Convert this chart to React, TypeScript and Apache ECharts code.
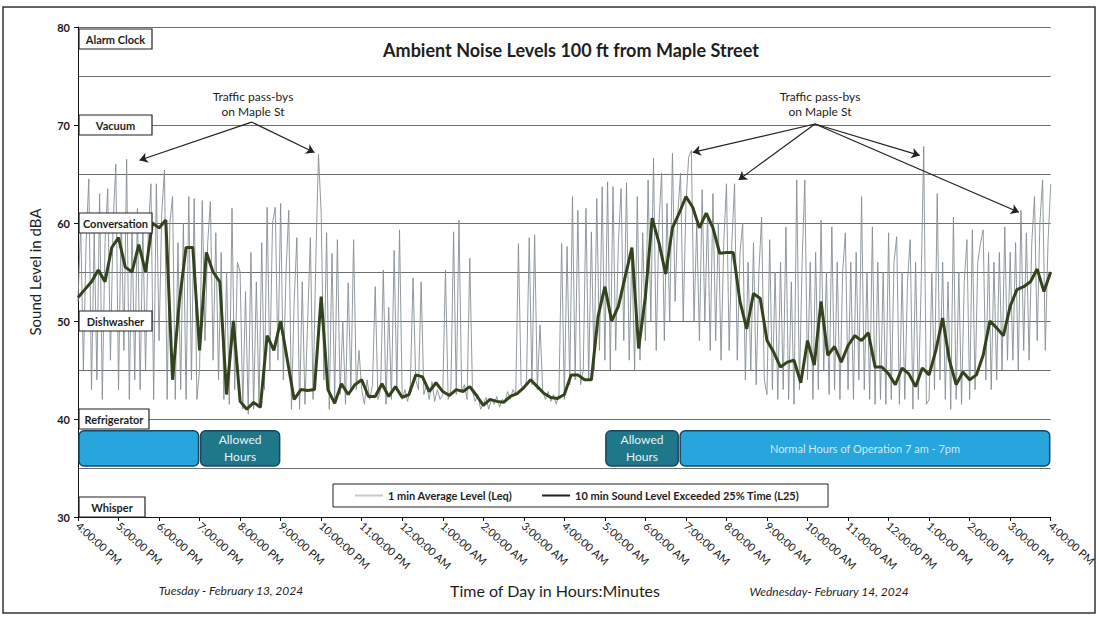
import React, { useEffect, useRef } from "react";
import * as echarts from "echarts";

const tickLabels = [
  "4:00:00 PM", "5:00:00 PM", "6:00:00 PM", "7:00:00 PM", "8:00:00 PM", "9:00:00 PM",
  "10:00:00 PM", "11:00:00 PM", "12:00:00 AM", "1:00:00 AM", "2:00:00 AM", "3:00:00 AM",
  "4:00:00 AM", "5:00:00 AM", "6:00:00 AM", "7:00:00 AM", "8:00:00 AM", "9:00:00 AM",
  "10:00:00 AM", "11:00:00 AM", "12:00:00 PM", "1:00:00 PM", "2:00:00 PM", "3:00:00 PM",
  "4:00:00 PM",
];

const leqStepMin = 4;
const leqValues = [
  52, 60, 45, 58, 64.5, 43, 59, 44, 63, 42, 58, 63.5, 46, 60, 66,
  43, 61, 47, 66.5, 42, 60, 44, 61.5, 43, 60, 45, 59, 64, 42, 64,
  48, 61, 65.4, 42, 60, 62.7, 42, 58, 43, 60, 42, 62.7, 44, 62.5, 42,
  45, 62.3, 48, 58, 62.2, 46, 59, 44, 57, 42, 55, 41.5, 61.5, 43, 56,
  55, 41, 53, 40.5, 57, 41, 54, 41.5, 58, 43, 61.6, 45, 60, 61.6, 46,
  62, 44, 55, 61.3, 41, 52, 58.5, 41, 54, 41.5, 50, 58.5, 42, 56, 67,
  61, 44, 59, 41, 56.9, 42, 58.3, 42.5, 50, 41.5, 53.9, 43, 58.3, 43, 47,
  43, 41.5, 44, 42, 43.5, 53.5, 42, 43, 55.2, 41.5, 51.4, 42, 57.2, 43, 59.3,
  42, 43, 41.8, 43.5, 54.4, 44, 43, 54, 42.5, 43.5, 42, 43.8, 41.8, 43, 42,
  42.5, 55.2, 42, 43, 59.1, 42.5, 60.3, 42.8, 43.5, 42, 56.4, 42.8, 41.8, 42.5, 41,
  41.5, 42.2, 41, 42, 41.5, 42.3, 41.2, 42, 41.8, 42.8, 42, 43, 42.5, 57.9, 43.5,
  43, 44, 58.5, 43.5, 58.8, 43, 49.6, 42.8, 42, 42.8, 41.8, 42.5, 41.5, 42.5, 57.9,
  42, 57.6, 43.5, 62.7, 44, 61.3, 43.5, 45, 61.5, 44, 59.1, 45, 62.5, 47, 63.7,
  46, 64.2, 45, 63.7, 47, 58, 63.5, 48, 64.1, 46, 57, 45, 62.7, 46, 59,
  48, 64.4, 50, 66.6, 47, 60, 65.1, 48, 62, 50, 67.1, 52, 61, 65.1, 50,
  62, 66.7, 67.4, 50, 60, 48, 63.4, 50, 61, 47, 63, 48, 60, 46, 58,
  64, 47, 58, 64, 46, 57, 60, 44, 56, 45, 58, 43.5, 55, 60.6, 44,
  42.5, 58.3, 43, 55, 42, 56, 43, 59.6, 42, 54, 41.5, 64.4, 43, 56, 64.4,
  44, 56, 42, 57, 43, 60.3, 45, 55, 42.5, 59.6, 43, 56, 42, 55, 59,
  43, 56, 42, 57, 44, 62.7, 43, 55, 42, 59.6, 41.5, 56, 42, 55, 41.5,
  59, 42, 56, 58.6, 41.5, 55, 42, 54, 58.3, 41, 56, 42, 53, 67.8, 41.5,
  42, 55, 43, 63, 44, 56, 42, 54, 41, 60.6, 42, 55, 41.5, 54, 58.3,
  42, 59.3, 43, 56, 57.9, 59.3, 44, 57, 43, 56, 44, 57, 45, 59.6, 46,
  57, 46, 58, 45, 61.3, 47, 59, 46, 58, 62.7, 48, 60, 64.4, 47, 58,
  64,
];

// 10-min L25, every 10 minutes from 4:00 PM
const l25StepMin = 10;
const l25Values = [
  52.4, 53.2, 54, 55.2, 54, 57.5, 58.5, 55.5, 55, 57.8,
  55, 60, 59.5, 60.3, 44, 52, 57.5, 57.5, 47, 57,
  55, 54, 42.5, 50, 41.8, 41, 41.7, 41.2, 48.5, 47,
  50, 46, 42, 43, 42.9, 43, 52.5, 43, 41.6, 43.6,
  42.5, 43.5, 44, 42.3, 42.3, 43.6, 42.3, 43.3, 42.2, 42.5,
  44.5, 44.3, 42.8, 43.7, 42.8, 42.4, 43, 42.8, 43.3, 42.4,
  41.4, 42, 41.8, 41.7, 42.3, 42.6, 43.2, 44, 43.3, 42.6,
  42.2, 42.1, 42.5, 44.5, 44.5, 44, 44, 50.5, 53.5, 50,
  51.5, 54.5, 57.5, 47.2, 52.5, 60.5, 58, 54.8, 59.5, 61,
  62.7, 61.6, 59.5, 61, 59.5, 56.9, 57, 57, 52, 49.2,
  52.8, 52.3, 48, 46.8, 45.3, 45.8, 46, 43.7, 48, 45.5,
  52, 46.5, 47.4, 45.8, 47.5, 48.5, 48, 48.8, 45.3, 45.3,
  44.6, 43.5, 45.2, 44.6, 43.3, 45.2, 44.5, 47, 50.3, 46,
  43.5, 44.8, 44, 44.5, 46.5, 50, 49.3, 48.5, 51.5, 53.2,
  53.5, 54, 55.3, 53, 55,
];

// reference sound levels shown on the y axis
const refNames = ["Alarm Clock", "Vacuum", "Conversation", "Dishwasher", "Refrigerator", "Whisper"];
const refLevels = [80, 70, 60, 50, 40, 30];

// operation schedule bands (minutes from 4:00 PM)
const scheduleStart = [0, 180, 780, 890];
const scheduleEnd = [180, 300, 890, 1440];
const scheduleLabels = ["", "Allowed\nHours", "Allowed\nHours", "Normal Hours of Operation 7 am - 7pm"];
const scheduleKinds = ["normal", "allowed", "allowed", "normal"];
const scheduleBand = [35.2, 38.8];

// annotation arrows: [minute, dB] origin and target
const arrowsFrom = [[257, 70.3], [257, 70.3], [1091, 70.1], [1091, 70.1], [1091, 70.1], [1091, 70.1]];
const arrowsTo = [[91, 66.4], [350, 67.2], [910, 67.2], [978, 64.4], [1246, 66.9], [1393, 61.1]];

const LEQ = "1 min Average Level (Leq)";
const L25 = "10 min Sound Level Exceeded 25% Time (L25)";
const FONT = "Lato, 'Open Sans', sans-serif";

export default function App() {
  const ref = useRef<HTMLDivElement>(null);

  useEffect(() => {
    if (!ref.current) return;
    const chart = echarts.init(ref.current, null, { renderer: "svg" });

    const gridLine = { color: "#6e6e6e", width: 1 };
    const annText = {
      text: "Traffic pass-bys\non Maple St",
      align: "center",
      verticalAlign: "middle",
      fontSize: 12,
      lineHeight: 15,
      fontFamily: FONT,
      fill: "#1e1e1e",
    };

    const option: any = {
      animation: false,
      backgroundColor: "#ffffff",
      textStyle: { fontFamily: FONT },
      title: {
        text: "Ambient Noise Levels 100 ft from Maple Street",
        left: 566,
        textAlign: "center",
        top: 36,
        textStyle: { fontFamily: FONT, fontSize: 18, fontWeight: "bold", color: "#1e1e1e" },
      },
      legend: {
        left: 333,
        top: 484,
        data: [
          { name: LEQ, icon: "rect", itemStyle: { color: "#c3cbce" } },
          { name: L25, icon: "rect", itemStyle: { color: "#1e1e1e" } },
        ],
        itemWidth: 28,
        itemHeight: 2,
        itemGap: 30,
        padding: [6, 29, 6, 22],
        borderColor: "#222",
        borderWidth: 1,
        backgroundColor: "#fff",
        textStyle: { fontFamily: FONT, fontSize: 11, fontWeight: "bold", color: "#1e1e1e" },
      },
      grid: { left: 78, right: 42, top: 27, bottom: 102, containLabel: false },
      xAxis: {
        type: "value",
        min: 0,
        max: 1440,
        interval: 60,
        axisLine: { show: true, lineStyle: { color: "#111", width: 1 } },
        axisTick: { show: true, length: 4, lineStyle: { color: "#111" } },
        axisLabel: {
          rotate: -42,
          fontSize: 11,
          margin: 7,
          color: "#1a1a1a",
          fontFamily: FONT,
          formatter: (v: number) => tickLabels[Math.round(v / 60)] ?? "",
        },
        splitLine: { show: false },
      },
      yAxis: {
        type: "value",
        min: 30,
        max: 80,
        interval: 10,
        name: "Sound Level in dBA",
        nameLocation: "middle",
        nameGap: 36,
        nameTextStyle: { fontFamily: FONT, fontSize: 15, color: "#1e1e1e" },
        axisLine: { show: true, lineStyle: { color: "#111", width: 1 } },
        axisTick: { show: true, length: 4, lineStyle: { color: "#111" } },
        axisLabel: { fontSize: 11, fontWeight: "bold", color: "#1a1a1a", margin: 8, fontFamily: FONT },
        splitLine: { show: true, lineStyle: gridLine },
        minorTick: { show: false, splitNumber: 2 },
        minorSplitLine: { show: true, lineStyle: gridLine },
      },
      series: [
        {
          name: LEQ,
          type: "line",
          symbol: "none",
          z: 2,
          data: leqValues.map((v, i) => [i * leqStepMin, v]),
          lineStyle: { color: "#858f94", width: 0.9 },
          itemStyle: { color: "#c3cbce" },
        },
        {
          name: L25,
          type: "line",
          symbol: "none",
          z: 3,
          data: l25Values.map((v, i) => [i * l25StepMin, v]),
          lineStyle: { color: "#33431e", width: 3 },
          itemStyle: { color: "#1e1e1e" },
          markLine: {
            silent: true,
            symbol: ["none", "arrow"],
            symbolSize: 8,
            label: { show: false },
            lineStyle: { color: "#222", width: 1.2, type: "solid" },
            data: arrowsFrom.map((f, i) => [{ coord: f }, { coord: arrowsTo[i] }]),
          },
        },
        {
          name: "schedule",
          type: "custom",
          z: 5,
          silent: true,
          data: scheduleStart.map((s, i) => [s, scheduleEnd[i]]),
          renderItem: (params: any, api: any) => {
            const i = params.dataIndex;
            const p1 = api.coord([scheduleStart[i], scheduleBand[1]]);
            const p2 = api.coord([scheduleEnd[i], scheduleBand[0]]);
            const allowed = scheduleKinds[i] === "allowed";
            return {
              type: "rect",
              shape: { x: p1[0] + 1, y: p1[1], width: p2[0] - p1[0] - 2, height: p2[1] - p1[1], r: 5 },
              style: { fill: allowed ? "#1f7889" : "#27a5dd", stroke: "#1c4659", lineWidth: 1.5 },
              textContent: {
                style: {
                  text: scheduleLabels[i],
                  fill: allowed ? "#e4f3f6" : "#cde9f6",
                  fontSize: allowed ? 12 : 11,
                  fontFamily: FONT,
                  align: "center",
                  lineHeight: 17,
                },
              },
              textConfig: { position: "inside" },
            };
          },
        },
        {
          name: "levels",
          type: "custom",
          z: 6,
          silent: true,
          data: refLevels.map((v) => [0, v]),
          renderItem: (params: any, api: any) => {
            const i = params.dataIndex;
            const c = api.coord([0, refLevels[i]]);
            const cs = params.coordSys;
            const h = 20;
            const w = refNames[i] === "Whisper" ? 66 : refNames[i] === "Refrigerator" ? 70 : 73;
            let yc = c[1];
            yc = Math.max(yc, cs.y + h / 2 + 2);
            yc = Math.min(yc, cs.y + cs.height - h / 2);
            return {
              type: "rect",
              shape: { x: c[0] + 1, y: yc - h / 2, width: w, height: h },
              style: { fill: "#ffffff", stroke: "#222", lineWidth: 1.2 },
              textContent: {
                style: { text: refNames[i], fill: "#1e1e1e", fontSize: 11, fontWeight: "bold", fontFamily: FONT },
              },
              textConfig: { position: "inside" },
            };
          },
        },
      ],
      graphic: [
        {
          type: "rect",
          silent: true,
          z: 0,
          shape: { x: 3, y: 7, width: 1092, height: 606 },
          style: { fill: "none", stroke: "#333", lineWidth: 1.5 },
        },
        { type: "text", z: 10, x: 253, y: 104, style: annText },
        { type: "text", z: 10, x: 820, y: 104, style: annText },
        {
          type: "text",
          z: 10,
          x: 555,
          y: 590,
          style: {
            text: "Time of Day in Hours:Minutes",
            align: "center",
            verticalAlign: "middle",
            fontSize: 16,
            fontFamily: FONT,
            fill: "#1e1e1e",
          },
        },
        {
          type: "text",
          z: 10,
          x: 231,
          y: 590,
          style: {
            text: "Tuesday - February 13, 2024",
            align: "center",
            verticalAlign: "middle",
            fontSize: 12,
            fontStyle: "italic",
            fontFamily: FONT,
            fill: "#1e1e1e",
          },
        },
        {
          type: "text",
          z: 10,
          x: 829,
          y: 591,
          style: {
            text: "Wednesday- February 14, 2024",
            align: "center",
            verticalAlign: "middle",
            fontSize: 12,
            fontStyle: "italic",
            fontFamily: FONT,
            fill: "#1e1e1e",
          },
        },
      ],
    };

    chart.setOption(option);
    return () => chart.dispose();
  }, []);

  return (
    <div
      ref={ref}
      style={{ position: "fixed", left: 0, top: 0, width: 1099, height: 619, background: "#fff" }}
    />
  );
}
